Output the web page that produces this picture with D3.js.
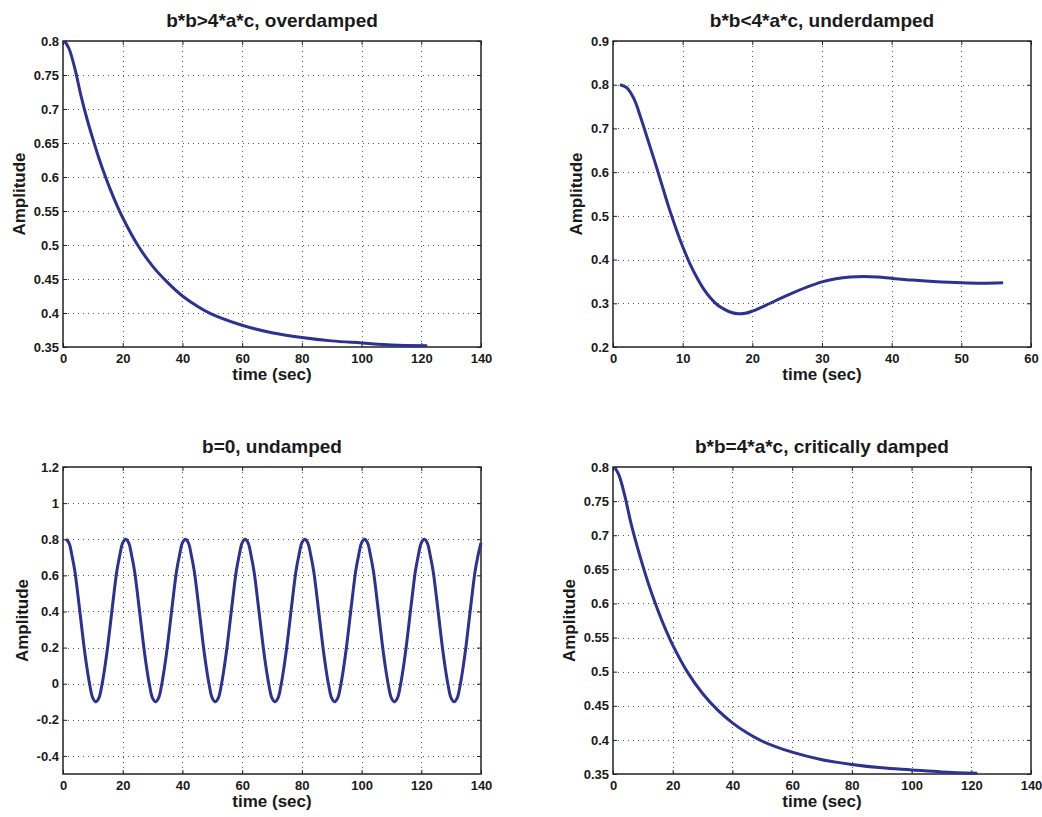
<!DOCTYPE html>
<html>
<head>
<meta charset="utf-8">
<script src="https://cdn.jsdelivr.net/npm/d3@7"></script>
<style>
  body { margin: 0; background: #fff; }
  text { font-family: "Liberation Sans", Arial, Helvetica, sans-serif; font-weight: bold; fill: #1a1a1a; }
</style>
</head>
<body>
<div id="wrapper"></div>
<script>
// values
const overTime = [0.5, 2, 4, 6, 8, 10, 12, 14, 16, 18, 20, 25, 30, 35, 40, 45, 50, 60, 70, 80, 90, 100, 110, 122]
const overAmp = [0.8, 0.789, 0.759, 0.72, 0.686, 0.656, 0.628, 0.603, 0.58, 0.559, 0.54, 0.5, 0.469, 0.445, 0.425, 0.41, 0.398, 0.382, 0.371, 0.364, 0.359, 0.356, 0.353, 0.352]

const underTime = [1, 2, 3, 4, 5, 6, 7, 8, 9, 10, 11, 12, 13, 14, 15, 16, 17, 18, 19, 20, 22, 25, 28, 30, 32, 34, 36, 38, 40, 43, 46, 50, 53, 56]
const underAmp = [0.8, 0.793, 0.768, 0.724, 0.674, 0.624, 0.572, 0.52, 0.473, 0.43, 0.392, 0.36, 0.333, 0.312, 0.296, 0.286, 0.279, 0.276, 0.277, 0.282, 0.296, 0.318, 0.338, 0.349, 0.356, 0.36, 0.361, 0.36, 0.357, 0.353, 0.35, 0.347, 0.346, 0.347]

const undampedTime = d3.range(1, 141)
const undampedAmp = [
  0.80, 0.78, 0.71, 0.62, 0.49, 0.35, 0.21, 0.09, -0.01, -0.08, -0.10, -0.08, -0.01, 0.09, 0.21, 0.35, 0.49, 0.62, 0.71, 0.78,
  0.80, 0.78, 0.71, 0.62, 0.49, 0.35, 0.21, 0.09, -0.01, -0.08, -0.10, -0.08, -0.01, 0.09, 0.21, 0.35, 0.49, 0.62, 0.71, 0.78,
  0.80, 0.78, 0.71, 0.62, 0.49, 0.35, 0.21, 0.09, -0.01, -0.08, -0.10, -0.08, -0.01, 0.09, 0.21, 0.35, 0.49, 0.62, 0.71, 0.78,
  0.80, 0.78, 0.71, 0.62, 0.49, 0.35, 0.21, 0.09, -0.01, -0.08, -0.10, -0.08, -0.01, 0.09, 0.21, 0.35, 0.49, 0.62, 0.71, 0.78,
  0.80, 0.78, 0.71, 0.62, 0.49, 0.35, 0.21, 0.09, -0.01, -0.08, -0.10, -0.08, -0.01, 0.09, 0.21, 0.35, 0.49, 0.62, 0.71, 0.78,
  0.80, 0.78, 0.71, 0.62, 0.49, 0.35, 0.21, 0.09, -0.01, -0.08, -0.10, -0.08, -0.01, 0.09, 0.21, 0.35, 0.49, 0.62, 0.71, 0.78,
  0.80, 0.78, 0.71, 0.62, 0.49, 0.35, 0.21, 0.09, -0.01, -0.08, -0.10, -0.08, -0.01, 0.09, 0.21, 0.35, 0.49, 0.62, 0.71, 0.78
]

const criticalTime = [0.5, 2, 4, 6, 8, 10, 12, 14, 16, 18, 20, 25, 30, 35, 40, 45, 50, 60, 70, 80, 90, 100, 110, 122]
const criticalAmp = [0.8, 0.788, 0.757, 0.718, 0.685, 0.655, 0.627, 0.602, 0.579, 0.558, 0.539, 0.499, 0.468, 0.444, 0.425, 0.41, 0.398, 0.382, 0.371, 0.364, 0.359, 0.356, 0.353, 0.351]

// tick labels
const xTicks140 = [0, 20, 40, 60, 80, 100, 120, 140]
const xTicks60 = [0, 10, 20, 30, 40, 50, 60]
const yTicksDecay = [0.35, 0.4, 0.45, 0.5, 0.55, 0.6, 0.65, 0.7, 0.75, 0.8]
const yTicksUnder = [0.2, 0.3, 0.4, 0.5, 0.6, 0.7, 0.8, 0.9]
const yTicksUndamped = [-0.4, -0.2, 0, 0.2, 0.4, 0.6, 0.8, 1, 1.2]

const titles = ["b*b>4*a*c, overdamped", "b*b<4*a*c, underdamped", "b=0, undamped", "b*b=4*a*c, critically damped"]

// layout of the four axes
const panels = [
  { title: titles[0], time: overTime, amp: overAmp, x: [0, 140], y: [0.35, 0.8], xt: xTicks140, yt: yTicksDecay,
    left: 63, right: 481, top: 41, bottom: 347 },
  { title: titles[1], time: underTime, amp: underAmp, x: [0, 60], y: [0.2, 0.9], xt: xTicks60, yt: yTicksUnder,
    left: 613, right: 1031, top: 41, bottom: 347 },
  { title: titles[2], time: undampedTime, amp: undampedAmp, x: [0, 140], y: [-0.5, 1.2], xt: xTicks140, yt: yTicksUndamped,
    left: 63, right: 481, top: 467, bottom: 774 },
  { title: titles[3], time: criticalTime, amp: criticalAmp, x: [0, 140], y: [0.35, 0.8], xt: xTicks140, yt: yTicksDecay,
    left: 613, right: 1031, top: 467, bottom: 774 }
]

const fmt = d => String(+d.toFixed(2)).replace("\u2212", "-")

const svg = d3.select("#wrapper")
  .append("svg")
    .attr("width", 1042)
    .attr("height", 817)

svg.append("rect")
  .attr("width", 1042)
  .attr("height", 817)
  .attr("fill", "#fff")

panels.forEach(p => {
  const w = p.right - p.left
  const h = p.bottom - p.top

  const xScale = d3.scaleLinear().domain(p.x).range([0, w])
  const yScale = d3.scaleLinear().domain(p.y).range([h, 0])

  const g = svg.append("g")
    .attr("transform", `translate(${p.left},${p.top})`)

  // grid
  const grid = g.append("g")
    .attr("stroke", "#555")
    .attr("stroke-width", 1)
    .attr("stroke-dasharray", "1,4")
  grid.selectAll(".gx")
    .data(p.xt.filter(d => d > p.x[0] && d < p.x[1]))
    .enter().append("line")
      .attr("x1", d => Math.round(xScale(d)) + 0.5)
      .attr("x2", d => Math.round(xScale(d)) + 0.5)
      .attr("y1", 0)
      .attr("y2", h)
  grid.selectAll(".gy")
    .data(p.yt.filter(d => d > p.y[0] && d < p.y[1]))
    .enter().append("line")
      .attr("y1", d => Math.round(yScale(d)) + 0.5)
      .attr("y2", d => Math.round(yScale(d)) + 0.5)
      .attr("x1", 0)
      .attr("x2", w)

  // axes, ticks inside
  const styleAxis = sel => {
    sel.select(".domain").remove()
    sel.selectAll(".tick line").attr("stroke", "#222")
    sel.selectAll("text")
      .attr("fill", "#1a1a1a")
      .style("font-size", "13px")
      .style("font-family", "'Liberation Sans', Arial, sans-serif")
      .style("font-weight", "bold")
  }

  g.append("g")
    .attr("transform", `translate(0,${h})`)
    .call(d3.axisBottom(xScale).tickValues(p.xt).tickFormat(fmt).tickSizeInner(-4).tickSizeOuter(0).tickPadding(7))
    .call(styleAxis)
  g.append("g")
    .call(d3.axisTop(xScale).tickValues(p.xt).tickFormat("").tickSizeInner(-4).tickSizeOuter(0))
    .call(styleAxis)
  const yAxis = g.append("g")
    .call(d3.axisLeft(yScale).tickValues(p.yt).tickFormat(fmt).tickSizeInner(-4).tickSizeOuter(0).tickPadding(4))
    .call(styleAxis)
  g.append("g")
    .attr("transform", `translate(${w},0)`)
    .call(d3.axisRight(yScale).tickValues(p.yt).tickFormat("").tickSizeInner(-4).tickSizeOuter(0))
    .call(styleAxis)

  // box
  g.append("rect")
    .attr("width", w)
    .attr("height", h)
    .attr("fill", "none")
    .attr("stroke", "#222")
    .attr("stroke-width", 1.5)

  // curve
  const line = d3.line()
    .x((d, i) => xScale(p.time[i]))
    .y(d => yScale(d))
    .curve(d3.curveCatmullRom.alpha(0.5))

  g.append("path")
    .datum(p.amp)
    .attr("fill", "none")
    .attr("stroke", "#2d3192")
    .attr("stroke-width", 3)
    .attr("stroke-linejoin", "round")
    .attr("d", line)

  // labels
  g.append("text")
    .attr("x", w / 2)
    .attr("y", -14)
    .attr("text-anchor", "middle")
    .style("font-size", "19px")
    .text(p.title)

  g.append("text")
    .attr("x", w / 2)
    .attr("y", h + 33)
    .attr("text-anchor", "middle")
    .style("font-size", "17px")
    .text("time (sec)")

  let maxW = 0
  yAxis.selectAll("text").each(function() {
    maxW = Math.max(maxW, this.getComputedTextLength())
  })
  g.append("text")
    .attr("transform", `translate(${-4 - maxW - 9},${h / 2}) rotate(-90)`)
    .attr("text-anchor", "middle")
    .style("font-size", "17px")
    .text("Amplitude")
})
</script>
</body>
</html>
